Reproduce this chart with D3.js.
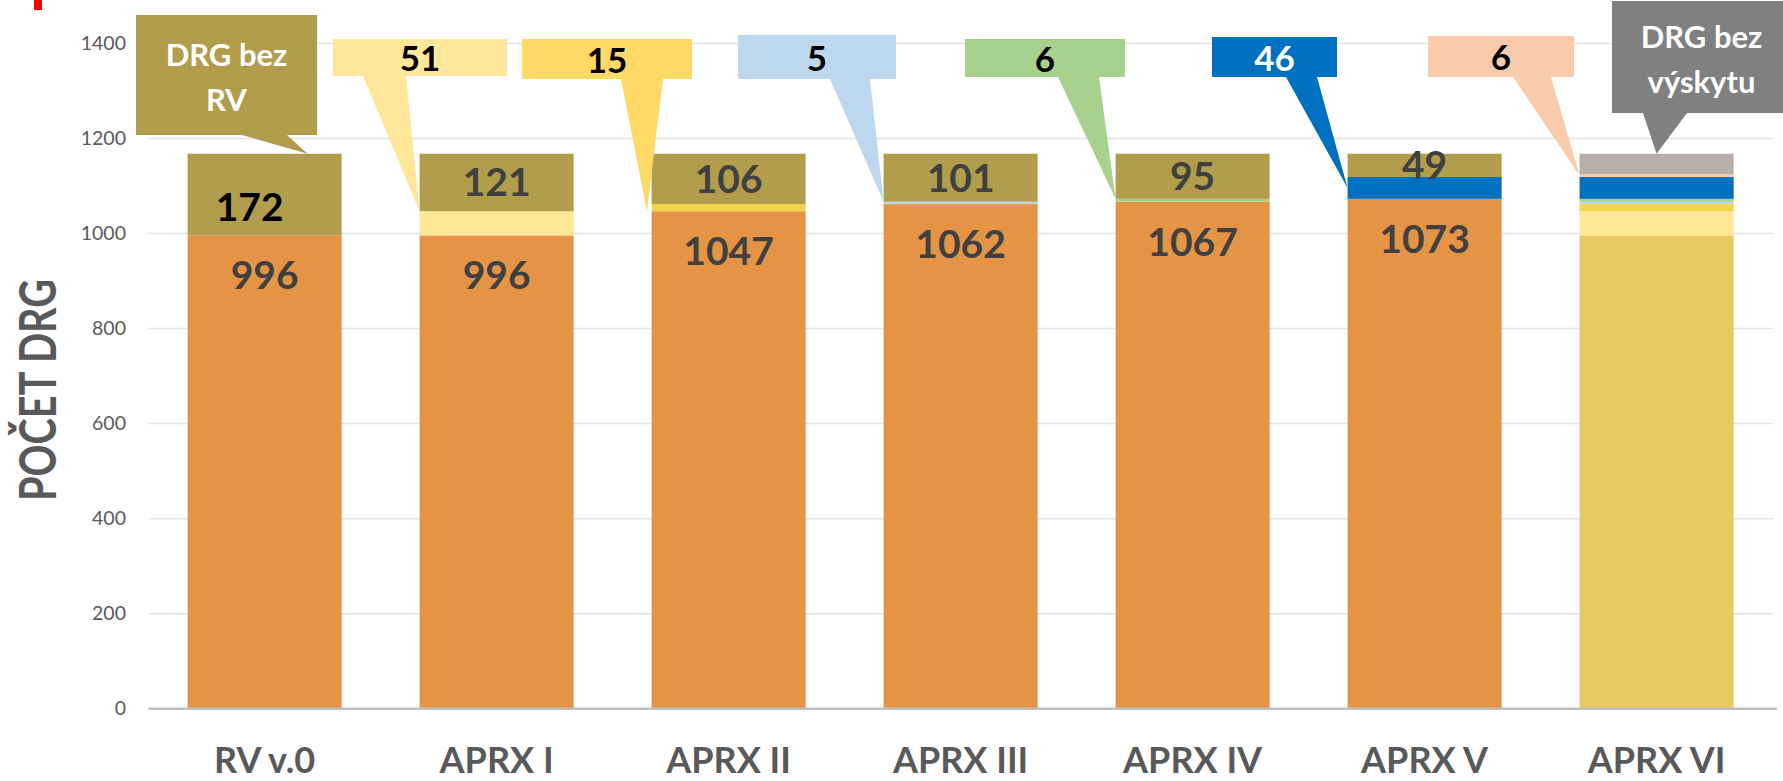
<!DOCTYPE html>
<html>
<head>
<meta charset="utf-8">
<script src="https://cdn.jsdelivr.net/npm/d3@7"></script>
<style>
  body { margin: 0; background: #fff; }
  text { font-family: Lato, 'Open Sans', sans-serif; }
</style>
</head>
<body>
<svg width="1783" height="781"></svg>
<script>
// categories and series
var categories = ['RV v.0', 'APRX I', 'APRX II', 'APRX III', 'APRX IV', 'APRX V', 'APRX VI'];
var zakladni   = [996, 996, 1047, 1062, 1067, 1073, 0];
var puvodni    = [0, 0, 0, 0, 0, 0, 996];
var noveI      = [0, 51, 0, 0, 0, 0, 51];
var noveII     = [0, 0, 15, 0, 0, 0, 15];
var noveIII    = [0, 0, 0, 5, 0, 0, 5];
var noveIV     = [0, 0, 0, 0, 6, 0, 6];
var noveV      = [0, 0, 0, 0, 0, 46, 46];
var noveVI     = [0, 0, 0, 0, 0, 0, 6];
var bezRV      = [172, 121, 106, 101, 95, 49, 0];
var bezVyskytu = [0, 0, 0, 0, 0, 0, 43];
var yTicks = [0, 200, 400, 600, 800, 1000, 1200, 1400];

var keys = ['zakladni', 'puvodni', 'noveI', 'noveII', 'noveIII', 'noveIV', 'noveV', 'noveVI', 'bezRV', 'bezVyskytu'];
var series = {zakladni, puvodni, noveI, noveII, noveIII, noveIV, noveV, noveVI, bezRV, bezVyskytu};

var colors = {
    zakladni: '#E59445', puvodni: '#E6CA5E', noveI: '#FFE795', noveII: '#F6D44A',
    noveIII: '#BDD7EE', noveIV: '#A9D18E', noveV: '#0070C0', noveVI: '#F8CBAD',
    bezRV: '#B29D4C', bezVyskytu: '#B8AFAB'
};

var table = categories.map((c, i) => {
    var row = {cat: c};
    keys.forEach(k => row[k] = series[k][i]);
    return row;
});

var stacked = d3.stack().keys(keys)(table);
var byKey = {};
stacked.forEach(s => byKey[s.key] = s);

var svg = d3.select('svg');

var x = d3.scaleBand()
    .domain(categories)
    .range([148.6, 1772.6])
    .paddingInner(0.336)
    .paddingOuter(0.168);

var y = d3.scaleLinear()
    .domain([0, 1400])
    .range([708.7, 43.5]);

// red marker in the corner
svg.append('rect')
    .attr('x', 34).attr('y', 0).attr('width', 8).attr('height', 10)
    .attr('fill', '#FF0000');

// gridlines
svg.append('g')
    .selectAll('line')
    .data(yTicks.filter(d => d > 0))
    .enter()
    .append('line')
    .attr('x1', 148.6).attr('x2', 1773)
    .attr('y1', d => y(d)).attr('y2', d => y(d))
    .attr('stroke', '#E3E3E3')
    .attr('stroke-width', 1.5);

// y axis labels
var yAxis = svg.append('g')
    .attr('transform', 'translate(126,0)')
    .call(d3.axisLeft(y).tickValues(yTicks).tickFormat(d3.format('d')).tickSize(0).tickPadding(0));
yAxis.select('.domain').remove();
yAxis.selectAll('text')
    .attr('fill', '#595959')
    .style('font-size', '19.5px')
    .style('font-family', 'Lato, sans-serif');

// axis title
svg.append('text')
    .attr('transform', 'translate(56,390) rotate(-90)')
    .attr('text-anchor', 'middle')
    .attr('textLength', 222)
    .attr('lengthAdjust', 'spacingAndGlyphs')
    .style('font-size', '51px')
    .style('font-weight', 'bold')
    .attr('fill', '#595959')
    .text('POČET DRG');

// stacked bars
svg.append('g')
    .selectAll('g')
    .data(stacked)
    .enter()
    .append('g')
    .attr('fill', d => colors[d.key])
    .selectAll('rect')
    .data(d => d.filter(p => p[1] > p[0]))
    .enter()
    .append('rect')
    .attr('x', d => x(d.data.cat))
    .attr('y', d => y(d[1]))
    .attr('width', x.bandwidth())
    .attr('height', d => y(d[0]) - y(d[1]));

// baseline
svg.append('line')
    .attr('x1', 148.6).attr('x2', 1777)
    .attr('y1', y(0)).attr('y2', y(0))
    .attr('stroke', '#BFBFBF')
    .attr('stroke-width', 2.5);

// x axis labels
var xAxis = svg.append('g')
    .attr('transform', 'translate(0,' + y(0) + ')')
    .call(d3.axisBottom(x).tickSize(0).tickPadding(0));
xAxis.select('.domain').remove();
xAxis.selectAll('text')
    .attr('dy', null)
    .attr('y', 64)
    .attr('fill', '#595959')
    .style('font-size', '36px')
    .style('font-weight', 'bold')
    .style('font-family', 'Lato, sans-serif');

// value labels in the bars
var labelG = svg.append('g')
    .style('font-size', '39px')
    .style('font-weight', 'bold')
    .attr('text-anchor', 'middle');

labelG.selectAll('text.base')
    .data(byKey.zakladni.filter(d => d[1] > d[0]))
    .enter()
    .append('text')
    .attr('class', 'base')
    .attr('x', d => x(d.data.cat) + x.bandwidth() / 2)
    .attr('y', d => y(d[1]) + 54)
    .attr('fill', '#404040')
    .text(d => d[1] - d[0]);

labelG.selectAll('text.rest')
    .data(byKey.bezRV.filter(d => d[1] > d[0]))
    .enter()
    .append('text')
    .attr('class', 'rest')
    .attr('x', (d, i) => x(d.data.cat) + x.bandwidth() / 2 - (i === 0 ? 15 : 0))
    .attr('y', (d, i) => (y(d[0]) + y(d[1])) / 2 + 14 + (i === 0 ? 12 : 0))
    .attr('fill', (d, i) => i === 0 ? '#000' : '#404040')
    .text(d => d[1] - d[0]);

// callouts: box, pointer base on the box bottom, tip on a bar segment
var callouts = [
    {cat: 'RV v.0', key: 'bezRV', lines: ['DRG bez', 'RV'], fill: '#B29D4C', color: '#fff',
        box: [136, 15, 317, 135], base: [242, 287], fx: 0.78, fy: 1},
    {cat: 'APRX I', key: 'noveI', fill: '#FFE699', color: '#000',
        box: [333, 39, 507, 76], base: [363, 406], fx: 0, fy: 1},
    {cat: 'APRX II', key: 'noveII', fill: '#FFD966', color: '#000',
        box: [522, 39, 692, 79], base: [621, 663], fx: -0.03, fy: 0},
    {cat: 'APRX III', key: 'noveIII', fill: '#BDD7EE', color: '#000',
        box: [738, 35, 896, 79], base: [830, 870], fx: 0, fy: 1},
    {cat: 'APRX IV', key: 'noveIV', fill: '#A9D18E', color: '#000',
        box: [965, 39, 1125, 77], base: [1058, 1099], fx: 0, fy: 1},
    {cat: 'APRX V', key: 'noveV', fill: '#0070C0', color: '#fff',
        box: [1212, 37, 1337, 77], base: [1286, 1317], fx: 0, fy: 0.5},
    {cat: 'APRX VI', key: 'noveVI', fill: '#F8CBAD', color: '#000',
        box: [1428, 36, 1574, 77], base: [1513, 1551], fx: 0, fy: 0.5},
    {cat: 'APRX VI', key: 'bezVyskytu', lines: ['DRG bez', 'výskytu'], fill: '#808080', color: '#fff',
        box: [1612, 1, 1791, 113], base: [1643, 1687], fx: 0.5, fy: 1}
];

var calloutG = svg.append('g')
    .selectAll('g')
    .data(callouts)
    .enter()
    .append('g');

calloutG.append('path')
    .attr('fill', d => d.fill)
    .attr('d', d => {
        var seg = byKey[d.key][categories.indexOf(d.cat)];
        var tx = x(d.cat) + d.fx * x.bandwidth();
        var ty = y(seg[0] + d.fy * (seg[1] - seg[0]));
        var b = d.box;
        return 'M' + b[0] + ',' + b[1] + 'H' + b[2] + 'V' + b[3] +
            'H' + d.base[1] + 'L' + tx + ',' + ty + 'L' + d.base[0] + ',' + b[3] +
            'H' + b[0] + 'Z';
    });

calloutG.each(function(d) {
    var g = d3.select(this);
    var b = d.box;
    var cx = (b[0] + b[2]) / 2;
    var seg = byKey[d.key][categories.indexOf(d.cat)];
    var lines = d.lines || [String(seg[1] - seg[0])];
    var size = d.lines ? 31 : 35;
    var lh = 45;
    var first = d.lines ? b[1] + (b[3] - b[1] - lh) / 2 + 2 : (b[1] + b[3]) / 2 + 1;
    g.selectAll('text')
        .data(lines)
        .enter()
        .append('text')
        .attr('x', cx)
        .attr('y', (t, i) => first + i * lh + size * 0.36)
        .attr('text-anchor', 'middle')
        .attr('fill', d.color)
        .style('font-size', size + 'px')
        .style('font-weight', 'bold')
        .text(t => t);
});
</script>
</body>
</html>
